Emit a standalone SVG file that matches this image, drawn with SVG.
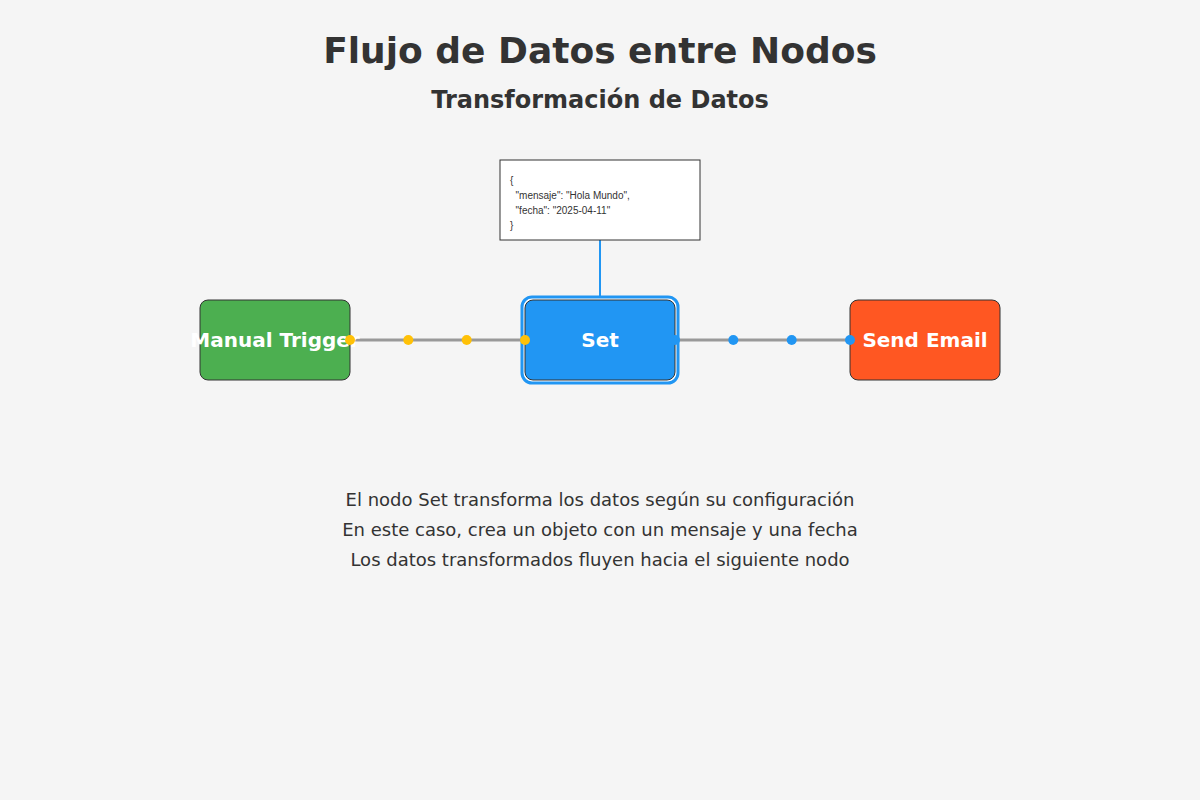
<svg xmlns="http://www.w3.org/2000/svg" width="1200" height="800" viewBox="0 0 1200 800">
  <style>
    .title { font-family: "DejaVu Sans", sans-serif; font-weight: bold; fill: #333; text-anchor: middle; }
    .node-rect { stroke: #333; stroke-width: 1; }
    .node-label { font-family: "DejaVu Sans", sans-serif; font-weight: bold; font-size: 20px; fill: #fff; text-anchor: middle; }
    .desc { font-family: "DejaVu Sans", sans-serif; font-size: 18px; fill: #333; text-anchor: middle; }
    .json { font-family: "Liberation Sans", Arial, sans-serif; font-size: 10px; fill: #333; }
    .flow { stroke: #999; stroke-width: 3; fill: none; }
    .dot-y { fill: #FFC107; }
    .dot-b { fill: #2196F3; }
  </style>
  <rect x="0" y="0" width="1200" height="800" fill="#f5f5f5"/>

  <text class="title" x="600" y="63" font-size="36">Flujo de Datos entre Nodos</text>
  <text class="title" x="600" y="108" font-size="24">Transformación de Datos</text>

  <g id="connectors">
    <line class="flow" x1="350" y1="340" x2="525" y2="340"/>
    <line class="flow" x1="675" y1="340" x2="850" y2="340"/>
    <line x1="600" y1="240" x2="600" y2="300" stroke="#2196F3" stroke-width="2"/>
  </g>

  <g id="json-data">
    <rect x="500" y="160" width="200" height="80" fill="#fff" stroke="#333" stroke-width="1"/>
    <text class="json" xml:space="preserve"><tspan x="510" y="184">{</tspan><tspan x="510" y="199">  "mensaje": "Hola Mundo",</tspan><tspan x="510" y="214">  "fecha": "2025-04-11"</tspan><tspan x="510" y="229">}</tspan></text>
  </g>

  <g id="node-manual-trigger">
    <rect class="node-rect" x="200" y="300" width="150" height="80" rx="8" fill="#4CAF50"/>
    <text class="node-label" x="275" y="347">Manual Trigger</text>
  </g>

  <g id="node-set">
    <rect x="522" y="297" width="156" height="86" rx="10" fill="#fff" stroke="#2196F3" stroke-width="3"/>
    <rect class="node-rect" x="525" y="300" width="150" height="80" rx="8" fill="#2196F3"/>
    <text class="node-label" x="600" y="347">Set</text>
  </g>

  <g id="node-send-email">
    <rect class="node-rect" x="850" y="300" width="150" height="80" rx="8" fill="#FF5722"/>
    <text class="node-label" x="925" y="347">Send Email</text>
  </g>

  <g id="data-dots">
    <circle class="dot-y" cx="350" cy="340" r="5"/>
    <circle class="dot-y" cx="408.3" cy="340" r="5"/>
    <circle class="dot-y" cx="466.7" cy="340" r="5"/>
    <circle class="dot-y" cx="525" cy="340" r="5"/>
    <circle class="dot-b" cx="675" cy="340" r="5"/>
    <circle class="dot-b" cx="733.3" cy="340" r="5"/>
    <circle class="dot-b" cx="791.7" cy="340" r="5"/>
    <circle class="dot-b" cx="850" cy="340" r="5"/>
  </g>

  <g id="description">
    <text class="desc" x="600" y="506">El nodo Set transforma los datos según su configuración</text>
    <text class="desc" x="600" y="536">En este caso, crea un objeto con un mensaje y una fecha</text>
    <text class="desc" x="600" y="566">Los datos transformados fluyen hacia el siguiente nodo</text>
  </g>
</svg>
